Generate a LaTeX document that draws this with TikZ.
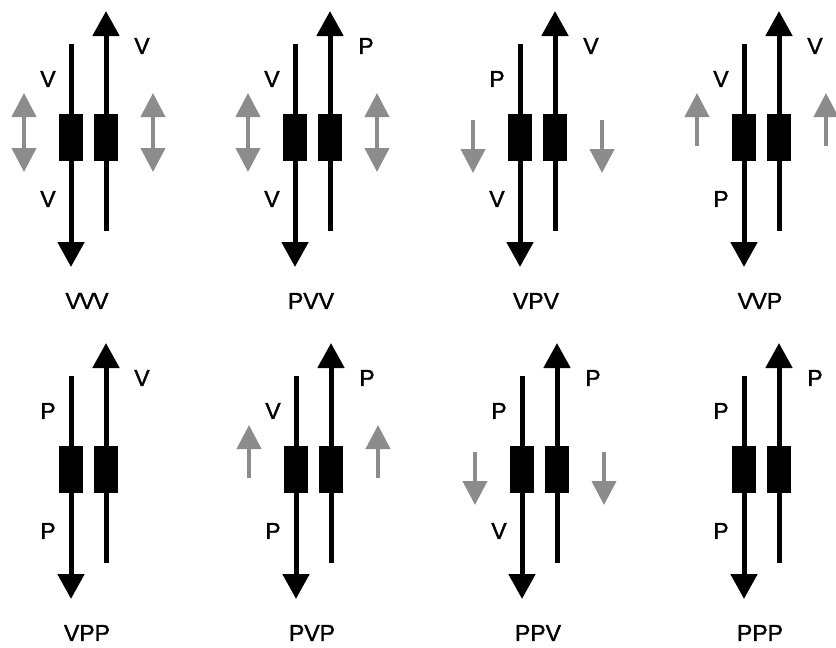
\documentclass[tikz,border=0pt]{standalone}
\usepackage{fontspec}
\setmainfont{Liberation Sans}[FakeBold=1.5]
\usetikzlibrary{arrows.meta}
\definecolor{arrowgray}{RGB}{140,140,140}
\tikzset{
 mainline/.style={line width=5pt, black},
 mainarrow/.style={mainline, -{Triangle[width=26pt,length=25pt]}},
 block/.style={fill=black, minimum width=24pt, minimum height=47pt, inner sep=0pt},
 lbl/.style={font=\fontsize{23}{26}\selectfont, inner sep=0pt},
 grayarrow/.style={line width=4pt, arrowgray, -{Triangle[width=24pt,length=24pt]}},
 graydouble/.style={line width=4pt, arrowgray, {Triangle[width=24pt,length=24pt]}-{Triangle[width=24pt,length=24pt]}},
}
\newcommand\mkpanel[8]{%
 \begin{scope}[shift={(#2,#3)}]
  \coordinate (#1-lt) at (0,44);
  \coordinate (#1-lb) at (0,267);
  \coordinate (#1-rb) at (35,231);
  \coordinate (#1-rt) at (35,11);
  \draw[mainarrow] (#1-lt) -- (#1-lb);
  \draw[mainarrow] (#1-rb) -- (#1-rt);
  \node[block] (#1-bl) at (0,137.5) {};
  \node[block] (#1-br) at (35,137.5) {};
  \node[lbl] (#1-t1) at (-23,79) {#4};
  \node[lbl] (#1-t2) at (-23,199) {#5};
  \node[lbl] (#1-t3) at (71,46) {#6};
  \node[lbl] (#1-cap) at (16,301) {#7};
  \ifcase#8
  \or
   \coordinate (#1-ga) at (-47,93); \coordinate (#1-gb) at (-47,172);
   \coordinate (#1-gc) at (82,93); \coordinate (#1-gd) at (82,172);
   \draw[graydouble] (#1-ga) -- (#1-gb);
   \draw[graydouble] (#1-gc) -- (#1-gd);
  \or
   \coordinate (#1-ga) at (-47,146); \coordinate (#1-gb) at (-47,93);
   \coordinate (#1-gc) at (82,146); \coordinate (#1-gd) at (82,93);
   \draw[grayarrow] (#1-ga) -- (#1-gb);
   \draw[grayarrow] (#1-gc) -- (#1-gd);
  \or
   \coordinate (#1-ga) at (-47,120); \coordinate (#1-gb) at (-47,173);
   \coordinate (#1-gc) at (82,120); \coordinate (#1-gd) at (82,173);
   \draw[grayarrow] (#1-ga) -- (#1-gb);
   \draw[grayarrow] (#1-gc) -- (#1-gd);
  \fi
 \end{scope}}
\begin{document}
\begin{tikzpicture}[x=1pt,y=-1pt]
\useasboundingbox[fill=white] (0,0) rectangle (836,648);
\mkpanel{p1}{71}{0}{V}{V}{V}{V\kern-1.5pt V\kern-1.5pt V}{1}
\mkpanel{p2}{295}{0}{V}{V}{P}{PVV}{1}
\mkpanel{p3}{520}{0}{P}{V}{V}{VPV}{3}
\mkpanel{p4}{744}{0}{V}{P}{V}{V\kern-1.5pt VP}{2}
\mkpanel{p5}{71}{332}{P}{P}{V}{VPP}{0}
\mkpanel{p6}{296}{332}{V}{P}{P}{PVP}{2}
\mkpanel{p7}{522}{332}{P}{V}{P}{PPV}{3}
\mkpanel{p8}{744}{332}{P}{P}{P}{PPP}{0}
\end{tikzpicture}
\end{document}
